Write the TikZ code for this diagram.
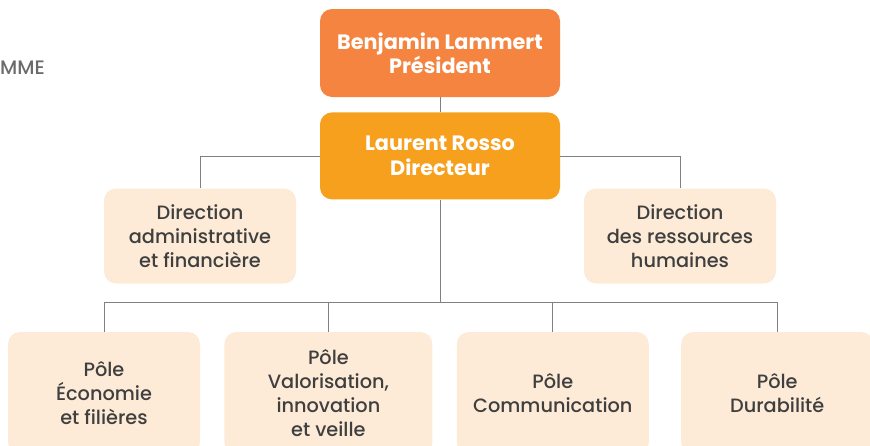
\documentclass[tikz,border=0pt]{standalone}
\usepackage{fontspec}
\setmainfont{Poppins}[UprightFont=* Medium, BoldFont=* Bold]
\usepackage{tikz}
\usetikzlibrary{positioning}

\definecolor{presorange}{HTML}{F4843F}
\definecolor{dirorange}{HTML}{F7A01E}
\definecolor{lightpeach}{HTML}{FDEBD7}
\definecolor{boxtext}{HTML}{3F3F3F}
\definecolor{linkgray}{HTML}{808080}
\definecolor{titlegray}{HTML}{6B6B6B}

\tikzset{
    chief/.style={rounded corners=12pt, inner sep=0pt, minimum width=240pt,
        align=center, text=white, font=\fontsize{20.8}{24.5}\selectfont\bfseries},
    unit/.style={rounded corners=12pt, fill=lightpeach, inner sep=0pt,
        align=center, text=boxtext, font=\fontsize{19.3}{24}\selectfont},
    link/.style={draw=linkgray, line width=0.8pt}
}

\begin{document}
\begin{tikzpicture}[x=1pt, y=-1pt]
    \useasboundingbox (0,0) rectangle (870,445);
    \clip (0,0) rectangle (870,445);
    \node [text=titlegray, font=\fontsize{19.5}{24}\selectfont, anchor=west, inner sep=0pt] (title) at (0,68) {MME};
    % direction
    \node [chief,fill=presorange,minimum height=88pt] (pres) at (440,53) {Benjamin Lammert\\Président};
    \node [chief,fill=dirorange,minimum height=87pt] (dir) [below=15pt of pres] {Laurent Rosso\\Directeur};
    \node [unit,minimum width=192pt,minimum height=95pt] (adm) at (200,236) {Direction\\administrative\\et financière};
    \node [unit,minimum width=192pt,minimum height=95pt] (rh) at (680,236) {Direction\\des ressources\\humaines};
    % poles
    \node [unit,minimum width=192pt,minimum height=122pt] (eco) at (104,393) {Pôle\\Économie\\et filières};
    \node [unit,minimum width=208pt,minimum height=122pt] (val) [right=24pt of eco] {Pôle\\Valorisation,\\innovation\\et veille};
    \node [unit,minimum width=192pt,minimum height=122pt] (com) [right=24pt of val] {Pôle\\Communication};
    \node [unit,minimum width=192pt,minimum height=122pt] (dur) [right=32pt of com] {Pôle\\Durabilité};
    \coordinate (bus) at (440,302);
    \draw[link] (pres) -- (dir);
    \draw[link] (dir) -- (bus);
    \draw[link] (dir.west) -| (adm.north);
    \draw[link] (dir.east) -| (rh.north);
    \foreach \p in {eco,val,com,dur}
        \draw[link] (bus) -| (\p.north);
\end{tikzpicture}
\end{document}
